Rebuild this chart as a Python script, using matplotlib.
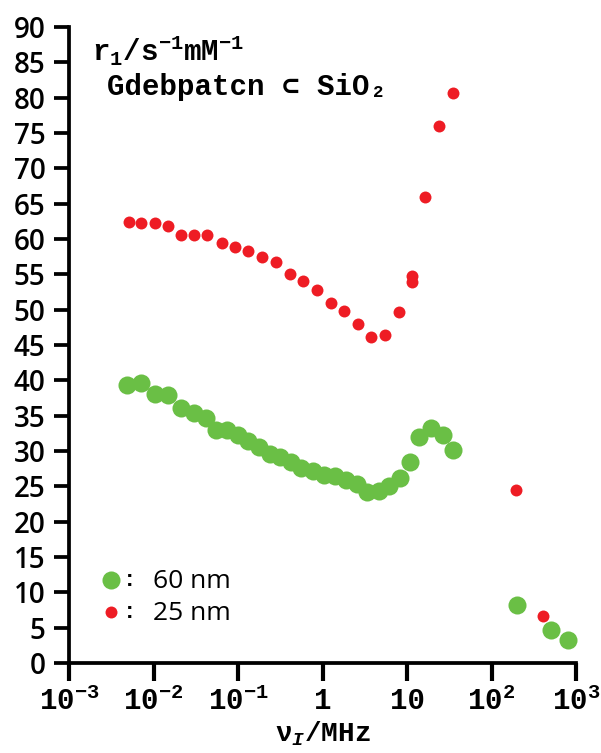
import matplotlib
matplotlib.use("Agg")
import matplotlib.pyplot as plt
from matplotlib.ticker import FixedLocator, FixedFormatter

# ---- data ----
x_red = [0.0051, 0.0072, 0.0103, 0.0147, 0.021, 0.030, 0.043, 0.064, 0.092, 0.133,
         0.193, 0.281, 0.41, 0.59, 0.855, 1.25, 1.81, 2.6, 3.8, 5.5, 8.0, 11.5, 11.5,
         16.5, 24.0, 35.3, 193, 405]
y_red = [62.4, 62.3, 62.2, 61.8, 60.5, 60.6, 60.5, 59.4, 58.8, 58.3,
         57.5, 56.7, 55.1, 54.1, 52.8, 50.9, 49.8, 48.0, 46.2, 46.4, 49.7, 54.8, 53.9,
         66.0, 76.0, 80.7, 24.5, 6.7]

x_green = [0.0049, 0.0072, 0.0103, 0.0147, 0.021, 0.030, 0.0416, 0.0547, 0.074, 0.100,
           0.131, 0.178, 0.24, 0.316, 0.428, 0.56, 0.78, 1.03, 1.39, 1.88, 2.54, 3.34,
           4.6, 6.1, 8.26, 10.9, 13.9, 19.3, 26.8, 35.3, 200, 508, 803]
y_green = [39.4, 39.6, 38.1, 37.9, 36.1, 35.4, 34.6, 33.0, 33.0, 32.3,
           31.4, 30.5, 29.6, 29.1, 28.4, 27.6, 27.2, 26.6, 26.5, 25.9, 25.3, 24.2,
           24.4, 25.0, 26.2, 28.5, 32.0, 33.3, 32.2, 30.2, 8.2, 4.7, 3.3]

xtick_values = [1e-3, 1e-2, 1e-1, 1, 10, 1e2, 1e3]
xtick_labels = [r'$10^{-3}$', r'$10^{-2}$', r'$10^{-1}$', '1', '10', r'$10^{2}$', r'$10^{3}$']
ytick_values = list(range(0, 91, 5))
legend_labels = ['60 nm', '25 nm']

# ---- style ----
plt.rcParams['mathtext.fontset'] = 'custom'
plt.rcParams['mathtext.rm'] = 'Liberation Mono:bold'
plt.rcParams['mathtext.it'] = 'Liberation Mono:italic:bold'
plt.rcParams['mathtext.default'] = 'regular'

GREEN = '#6abf45'
RED = '#ee1c24'
MONO = ['Liberation Mono', 'DejaVu Sans Mono']
SANS = ['Open Sans', 'DejaVu Sans']

fig = plt.figure(figsize=(6.01, 7.53), dpi=100)
ax = fig.add_axes([69/601, 1 - 663/753, (576 - 69)/601, (663 - 27)/753])

ax.plot(x_green, y_green, 'o', color=GREEN, markersize=13, markeredgewidth=0, clip_on=False, zorder=3)
ax.plot(x_red, y_red, 'o', color=RED, markersize=8.6, markeredgewidth=0, clip_on=False, zorder=4)

ax.set_xscale('log')
ax.set_xlim(1e-3, 1e3)
ax.set_ylim(0, 90)
ax.xaxis.set_major_locator(FixedLocator(xtick_values))
ax.xaxis.set_major_formatter(FixedFormatter(xtick_labels))
ax.xaxis.set_minor_locator(FixedLocator([]))
ax.set_yticks(ytick_values)

for s in ['top', 'right']:
    ax.spines[s].set_visible(False)
for s in ['left', 'bottom']:
    ax.spines[s].set_linewidth(2.7)
    ax.spines[s].set_capstyle('projecting')

ax.tick_params(axis='y', direction='out', length=11, width=2.7, pad=6)
ax.tick_params(axis='x', direction='out', length=13, width=3.0, pad=4)
for lab in ax.get_yticklabels():
    lab.set_fontfamily(SANS)
    lab.set_fontweight('semibold')
    lab.set_fontsize(20)
for lab in ax.get_xticklabels():
    lab.set_fontfamily(MONO)
    lab.set_fontweight('bold')
    lab.set_fontsize(21)

ax.set_xlabel(r'ν$_{\mathit{I}}$/MHz', fontfamily=MONO, fontweight='bold', fontsize=20, va='center')
ax.xaxis.set_label_coords(0.5, (663 - 734) / 636)

ax.text(92/601, 1 - 50/753, r'$r_1$/s$^{-1}$mM$^{-1}$', transform=fig.transFigure,
        fontfamily=MONO, fontweight='bold', fontsize=21, va='center', ha='left')
ax.text(107/601, 1 - 87/753, 'Gdebpatcn ⊂ SiO₂', transform=fig.transFigure,
        fontfamily=MONO, fontweight='bold', fontsize=21, va='center', ha='left')

# legend (manual)
for i, (col, ms, lab) in enumerate([(GREEN, 13, legend_labels[0]), (RED, 8.6, legend_labels[1])]):
    yy = 1 - (580 + 32 * i) / 753
    fig.lines.append(plt.Line2D([111/601], [yy], marker='o', color=col, markersize=ms,
                                markeredgewidth=0, linestyle='none', transform=fig.transFigure))
    fig.text(130/601, yy, ':', fontfamily=MONO, fontweight='bold', fontsize=16, va='center', ha='center')
    fig.text(153/601, yy - 2/753, lab, fontfamily=SANS, fontsize=19, va='center', ha='left')

fig.savefig('out.png', dpi=100)
